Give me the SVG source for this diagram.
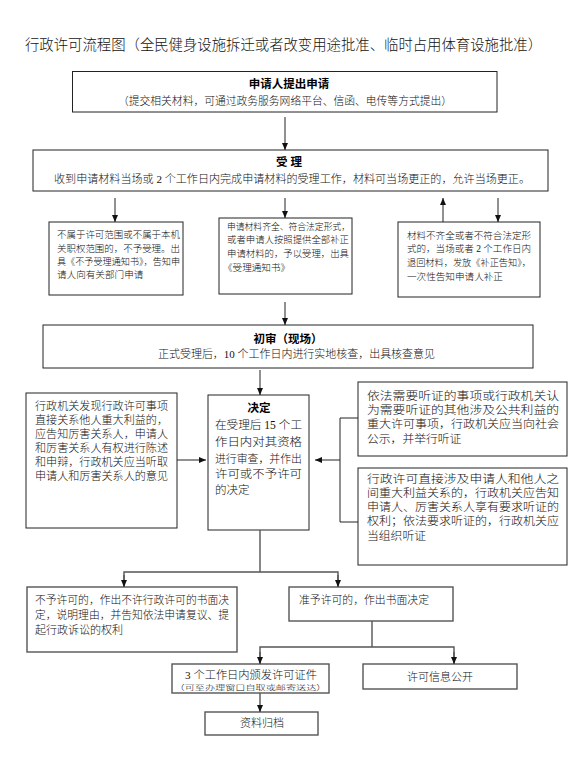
<svg xmlns="http://www.w3.org/2000/svg" width="575" height="763" viewBox="0 0 575 763">
<style>
.t{font-family:"Liberation Serif","Noto Sans CJK SC",serif;fill:#111;font-weight:300}
.b{font-family:"Liberation Sans","Noto Sans CJK SC",sans-serif;font-weight:bold;fill:#000}
.box{fill:#fff;stroke:#222;stroke-width:1}
.box2{fill:#fff;stroke:#555;stroke-width:1.4}
.ln{fill:none;stroke:#222;stroke-width:1}
.ln2{fill:none;stroke:#555;stroke-width:1.4}
</style>
<defs>
<marker id="ah" markerUnits="userSpaceOnUse" markerWidth="7" markerHeight="6" refX="7" refY="3" orient="auto">
<path d="M0,0 L7,3 L0,6 z" fill="#111"/>
</marker>
</defs>
<rect width="575" height="763" fill="#fff"/>
<text class="t" x="25" y="49.5" font-size="14.4" textLength="517" lengthAdjust="spacingAndGlyphs">行政许可流程图（全民健身设施拆迁或者改变用途批准、临时占用体育设施批准）</text>

<g id="n-apply">
<rect class="box" x="72.5" y="71.5" width="424.5" height="40.5"/>
<text class="b" x="289" y="87.7" font-size="11.5" text-anchor="middle">申请人提出申请</text>
<text class="t" x="285" y="105" font-size="10.8" text-anchor="middle" textLength="334" lengthAdjust="spacingAndGlyphs">（提交相关材料，可通过政务服务网络平台、信函、电传等方式提出）</text>
</g>

<g id="n-accept">
<rect class="box" x="33" y="150" width="515" height="41"/>
<text class="b" x="289" y="166" font-size="11.5" text-anchor="middle">受 理</text>
<text class="t" x="54" y="183" font-size="11" textLength="476" lengthAdjust="spacingAndGlyphs">收到申请材料当场或 2 个工作日内完成申请材料的受理工作，材料可当场更正的，允许当场更正。</text>
</g>

<g id="n-reject">
<rect class="box" x="49" y="222" width="134" height="73"/>
<text class="t" font-size="9.6">
<tspan x="57" y="237.7" textLength="123" lengthAdjust="spacingAndGlyphs">不属于许可范围或不属于本机</tspan>
<tspan x="57" y="251.5" textLength="123" lengthAdjust="spacingAndGlyphs">关职权范围的，不予受理。出</tspan>
<tspan x="57" y="264.8" textLength="123" lengthAdjust="spacingAndGlyphs">具《不予受理通知书》，告知申</tspan>
<tspan x="57" y="277.8">请人向有关部门申请</tspan>
</text>
</g>

<g id="n-ok">
<rect class="box" x="219" y="218" width="133" height="76"/>
<text class="t" font-size="9.6">
<tspan x="227" y="229.7" textLength="123" lengthAdjust="spacingAndGlyphs">申请材料齐全、符合法定形式，</tspan>
<tspan x="227" y="243" textLength="122" lengthAdjust="spacingAndGlyphs">或者申请人按照提供全部补正</tspan>
<tspan x="227" y="256.7" textLength="122" lengthAdjust="spacingAndGlyphs">申请材料的，予以受理，出具</tspan>
<tspan x="223" y="270.5">《受理通知书》</tspan>
</text>
</g>

<g id="n-incomplete">
<rect class="box" x="398" y="222" width="142" height="75"/>
<text class="t" font-size="9.6">
<tspan x="407" y="238.7" textLength="124" lengthAdjust="spacingAndGlyphs">材料不齐全或者不符合法定形</tspan>
<tspan x="407" y="251.7" textLength="124" lengthAdjust="spacingAndGlyphs">式的，当场或者 2 个工作日内</tspan>
<tspan x="407" y="265.7" textLength="124" lengthAdjust="spacingAndGlyphs">退回材料，发放《补正告知》，</tspan>
<tspan x="407" y="279.7">一次性告知申请人补正</tspan>
</text>
</g>

<g id="n-review">
<rect class="box" x="43" y="325" width="490" height="43"/>
<text class="b" x="288" y="343.4" font-size="11.5" text-anchor="middle">初审（现场）</text>
<text class="t" x="158" y="358.3" font-size="11.3" textLength="277" lengthAdjust="spacingAndGlyphs">正式受理后，10 个工作日内进行实地核查，出具核查意见</text>
</g>

<g id="n-left">
<rect class="box" x="26" y="393" width="151" height="135"/>
<text class="t" font-size="11">
<tspan x="35" y="410.2" textLength="133" lengthAdjust="spacingAndGlyphs">行政机关发现行政许可事项</tspan>
<tspan x="35" y="424.2" textLength="133" lengthAdjust="spacingAndGlyphs">直接关系他人重大利益的，</tspan>
<tspan x="35" y="438.2" textLength="133" lengthAdjust="spacingAndGlyphs">应告知厉害关系人，申请人</tspan>
<tspan x="35" y="451.5" textLength="133" lengthAdjust="spacingAndGlyphs">和厉害关系人有权进行陈述</tspan>
<tspan x="35" y="465.9" textLength="133" lengthAdjust="spacingAndGlyphs">和申辩，行政机关应当听取</tspan>
<tspan x="35" y="480.2" textLength="133" lengthAdjust="spacingAndGlyphs">申请人和厉害关系人的意见</tspan>
</text>
</g>

<g id="n-decide">
<rect class="box" x="208" y="395" width="101" height="135"/>
<text class="b" x="259" y="412.4" font-size="11.5" text-anchor="middle">决定</text>
<text class="t" font-size="11.5">
<tspan x="215" y="429.4" textLength="87" lengthAdjust="spacingAndGlyphs">在受理后 15 个工</tspan>
<tspan x="215" y="446.1" textLength="87" lengthAdjust="spacingAndGlyphs">作日内对其资格</tspan>
<tspan x="215" y="462.7" textLength="87" lengthAdjust="spacingAndGlyphs">进行审查，并作出</tspan>
<tspan x="215" y="478.4" textLength="87" lengthAdjust="spacingAndGlyphs">许可或不予许可</tspan>
<tspan x="215" y="494.4">的决定</tspan>
</text>
</g>

<g id="n-hearing1">
<rect class="box" x="358" y="382" width="209" height="74"/>
<text class="t" font-size="11.8">
<tspan x="367" y="399.6" textLength="192" lengthAdjust="spacingAndGlyphs">依法需要听证的事项或行政机关认</tspan>
<tspan x="367" y="413.9" textLength="192" lengthAdjust="spacingAndGlyphs">为需要听证的其他涉及公共利益的</tspan>
<tspan x="367" y="427.9" textLength="192" lengthAdjust="spacingAndGlyphs">重大许可事项，行政机关应当向社会</tspan>
<tspan x="367" y="442.9">公示，并举行听证</tspan>
</text>
</g>

<g id="n-hearing2">
<rect class="box" x="358" y="468" width="209" height="97"/>
<text class="t" font-size="11.8">
<tspan x="367" y="482.9" textLength="192" lengthAdjust="spacingAndGlyphs">行政许可直接涉及申请人和他人之</tspan>
<tspan x="367" y="497.3" textLength="192" lengthAdjust="spacingAndGlyphs">间重大利益关系的，行政机关应告知</tspan>
<tspan x="367" y="511.3" textLength="192" lengthAdjust="spacingAndGlyphs">申请人、厉害关系人享有要求听证的</tspan>
<tspan x="367" y="525.3" textLength="192" lengthAdjust="spacingAndGlyphs">权利；依法要求听证的，行政机关应</tspan>
<tspan x="367" y="539.6">当组织听证</tspan>
</text>
</g>

<g id="n-deny">
<rect class="box2" x="27" y="587" width="210" height="65"/>
<text class="t" font-size="11">
<tspan x="35" y="604.2" textLength="194" lengthAdjust="spacingAndGlyphs">不予许可的，作出不许行政许可的书面决</tspan>
<tspan x="35" y="619.2" textLength="194" lengthAdjust="spacingAndGlyphs">定，说明理由，并告知依法申请复议、提</tspan>
<tspan x="35" y="634.2">起行政诉讼的权利</tspan>
</text>
</g>

<g id="n-grant">
<rect class="box2" x="289" y="587" width="164" height="34"/>
<text class="t" x="299" y="604.2" font-size="11" textLength="130" lengthAdjust="spacingAndGlyphs">准予许可的，作出书面决定</text>
</g>

<g id="n-issue">
<rect class="box2" x="172" y="664" width="157" height="29"/>
<text class="t" x="251" y="679" font-size="10.8" text-anchor="middle" textLength="132" lengthAdjust="spacingAndGlyphs">3 个工作日内颁发许可证件</text>
<text class="t" transform="translate(250.5,690) scale(1,0.75)" x="0" y="0" font-size="9.8" text-anchor="middle" textLength="152" lengthAdjust="spacingAndGlyphs">（可至办理窗口自取或邮寄送达）</text>
</g>

<g id="n-public">
<rect class="box2" x="363" y="664" width="154" height="25"/>
<text class="t" x="440" y="681" font-size="11" text-anchor="middle">许可信息公开</text>
</g>

<g id="n-archive">
<rect class="box2" x="205" y="712" width="113" height="23"/>
<text class="t" x="262" y="727.2" font-size="11" text-anchor="middle">资料归档</text>
</g>

<g id="connectors">
<line class="ln" x1="285" y1="117" x2="285" y2="150" marker-end="url(#ah)"/>
<line class="ln" x1="115" y1="198" x2="115" y2="222" marker-end="url(#ah)"/>
<line class="ln" x1="285" y1="198" x2="285" y2="218" marker-end="url(#ah)"/>
<line class="ln" x1="443" y1="222" x2="443" y2="198" marker-end="url(#ah)"/>
<line class="ln" x1="498" y1="198" x2="498" y2="222" marker-end="url(#ah)"/>
<line class="ln" x1="285" y1="302" x2="285" y2="325" marker-end="url(#ah)"/>
<line class="ln" x1="260" y1="370" x2="260" y2="395" marker-end="url(#ah)"/>
<line class="ln" x1="177" y1="460" x2="206" y2="460" marker-end="url(#ah)"/>
<polyline class="ln" points="358,418 340,418 340,522 358,522"/>
<line class="ln" x1="340" y1="460" x2="315" y2="460" marker-end="url(#ah)"/>
<polyline class="ln2" points="260,530 260,572"/>
<polyline class="ln2" points="124,587 124,572 338,572 338,587"/>
<line class="ln2" x1="124" y1="575" x2="124" y2="587" marker-end="url(#ah)"/>
<line class="ln2" x1="338" y1="575" x2="338" y2="587" marker-end="url(#ah)"/>
<polyline class="ln2" points="372,621 372,647"/>
<polyline class="ln2" points="260,664 260,647 454,647 454,664"/>
<line class="ln2" x1="260" y1="652" x2="260" y2="664" marker-end="url(#ah)"/>
<line class="ln2" x1="454" y1="652" x2="454" y2="664" marker-end="url(#ah)"/>
<line class="ln2" x1="260" y1="693" x2="260" y2="712" marker-end="url(#ah)"/>
</g>
</svg>
